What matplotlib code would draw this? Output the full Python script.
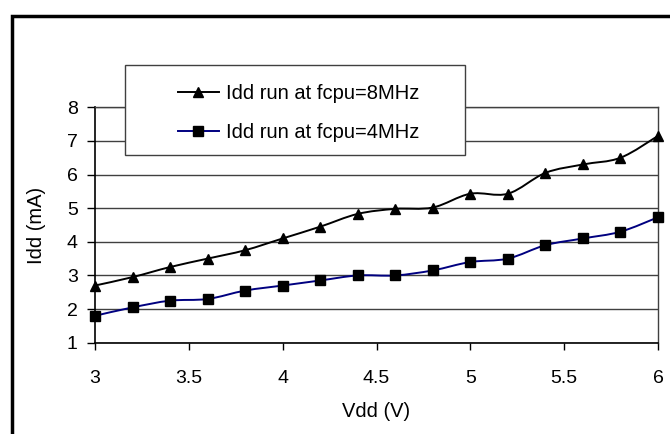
import matplotlib
matplotlib.use("Agg")
import matplotlib.pyplot as plt
from matplotlib.path import Path
from matplotlib.patches import PathPatch, Rectangle
from matplotlib.lines import Line2D
import numpy as np

plt.rcParams['font.family'] = ['Liberation Sans', 'DejaVu Sans']

vdd = [3.0, 3.2, 3.4, 3.6, 3.8, 4.0, 4.2, 4.4, 4.6, 4.8, 5.0, 5.2, 5.4, 5.6, 5.8, 6.0]
idd_8mhz = [2.70, 2.95, 3.25, 3.50, 3.75, 4.10, 4.45, 4.83, 4.98, 5.02, 5.43, 5.43, 6.05, 6.30, 6.50, 7.15]
idd_4mhz = [1.80, 2.05, 2.25, 2.30, 2.55, 2.70, 2.85, 3.00, 3.00, 3.15, 3.40, 3.50, 3.90, 4.10, 4.30, 4.73]
label_8 = "Idd run at fcpu=8MHz"
label_4 = "Idd run at fcpu=4MHz"
xticks = [3, 3.5, 4, 4.5, 5, 5.5, 6]
xtick_labels = ["3", "3.5", "4", "4.5", "5", "5.5", "6"]
yticks = [1, 2, 3, 4, 5, 6, 7, 8]

W, H = 670, 434
fig = plt.figure(figsize=(W / 100, H / 100), dpi=100)
fig.patch.set_facecolor('white')

def px(x0, y0, x1, y1):
    return [x0 / W, 1 - y1 / H, (x1 - x0) / W, (y1 - y0) / H]

ax = fig.add_axes(px(95, 107.3, 658, 342.7))


def smooth_path(xs, ys):
    P = np.column_stack([xs, ys]).astype(float)
    n = len(P)
    verts = [P[0]]
    codes = [Path.MOVETO]
    for i in range(n - 1):
        p0 = P[i - 1] if i > 0 else P[i]
        p1 = P[i]
        p2 = P[i + 1]
        p3 = P[i + 2] if i + 2 < n else P[i + 1]
        c1 = p1 + (p2 - p0) / 6.0
        c2 = p2 - (p3 - p1) / 6.0
        verts += [c1, c2, p2]
        codes += [Path.CURVE4] * 3
    return Path(verts, codes)

navy = '#000080'
for ys, col, mk, ms in [(idd_8mhz, 'black', '^', 7), (idd_4mhz, navy, 's', 6.5)]:
    ax.add_patch(PathPatch(smooth_path(vdd, ys), facecolor='none', edgecolor=col,
                           lw=1.4, zorder=3, clip_on=False))
    ax.plot(vdd, ys, linestyle='none', marker=mk, color='black', markersize=ms,
            zorder=4, clip_on=False)

ax.set_xlim(3, 6)
ax.set_ylim(1, 8)
ax.set_xticks(xticks)
ax.set_xticklabels(xtick_labels)
ax.set_yticks(yticks)
ax.yaxis.grid(True, color='#404040', lw=1.0)
ax.set_axisbelow(True)
for s in ['left', 'bottom']:
    ax.spines[s].set_color('black')
    ax.spines[s].set_linewidth(1.2)
for s in ['right', 'top']:
    ax.spines[s].set_color('#404040')
    ax.spines[s].set_linewidth(1.0)
ax.tick_params(axis='y', direction='out', length=6, width=1, pad=6.5, labelsize=14)
ax.tick_params(axis='x', direction='out', length=5, width=1, pad=14.5, labelsize=14)
ax.set_xlabel("Vdd (V)", fontsize=14.5, labelpad=11)
ax.set_ylabel("Idd (mA)", fontsize=14.5, labelpad=15)

# legend box
fig.add_artist(Rectangle((125 / W, 1 - 155 / H), (465 - 125) / W, (155 - 65) / H,
                         transform=fig.transFigure, facecolor='white',
                         edgecolor='#404040', lw=1.0, zorder=5))
handles = [Line2D([], [], color='black', lw=1.4, marker='^', markersize=7, markerfacecolor='black'),
           Line2D([], [], color=navy, lw=1.4, marker='s', markersize=6.5,
                  markerfacecolor='black', markeredgecolor='black')]
leg = fig.legend(handles, [label_8, label_4], loc='center left',
                 bbox_to_anchor=(159.5 / W, 1 - 113 / H), frameon=False,
                 fontsize=14.5, handlelength=2.04, handletextpad=0.35,
                 labelspacing=1.02, markerscale=1.0)
leg.set_zorder(6)

# outer border
fig.add_artist(Rectangle((11.5 / W, -0.1), 1.2, 1 - 15.5 / H + 0.1,
                         transform=fig.transFigure, facecolor='none',
                         edgecolor='black', lw=2.5, zorder=10))

fig.savefig("out.png", dpi=100)
